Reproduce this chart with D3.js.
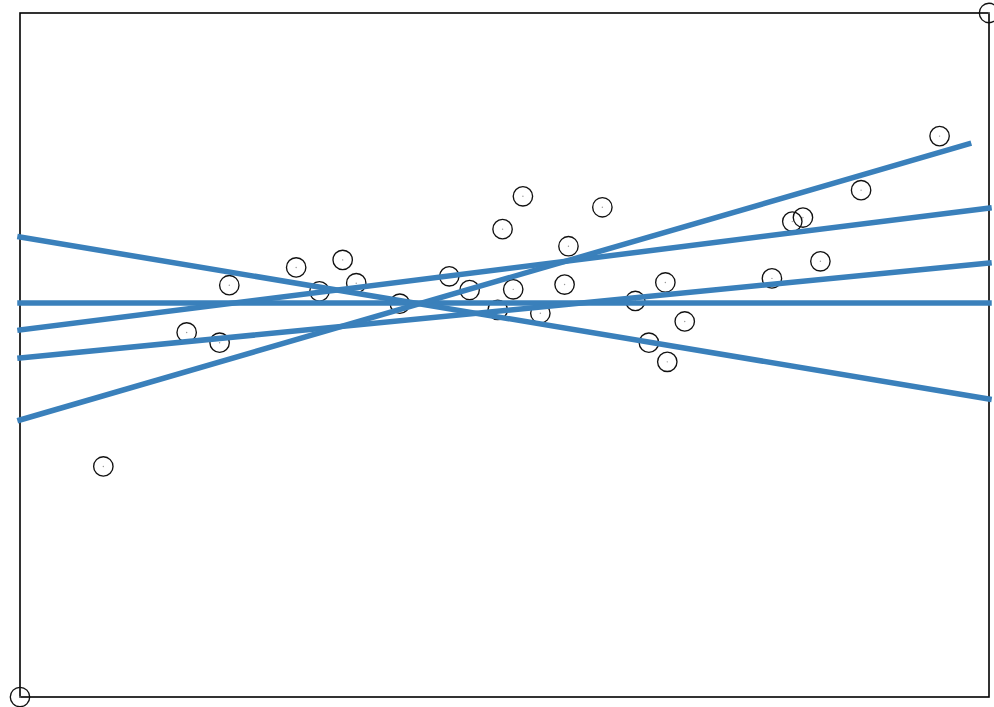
<!DOCTYPE html>
<html>
<head>
<meta charset="utf-8">
<script src="https://cdn.jsdelivr.net/npm/d3@7"></script>
<style>
  html, body { margin: 0; padding: 0; background: #fff; }
  svg { display: block; }
</style>
</head>
<body>
<svg id="chart" width="994" height="707"></svg>
<script>
// Scatter points (data units)
const pointX = [0, 100, 8.6, 17.2, 20.6, 21.6, 28.5, 30.9, 33.3, 34.7, 39.2, 44.3, 46.4, 49.3, 50.9, 49.8, 51.9, 53.7, 56.2, 56.6, 60.1, 63.5, 64.9, 66.6, 66.8, 68.6, 77.6, 79.7, 80.8, 82.6, 86.8, 94.9];
const pointY = [0, 100, 33.7, 53.3, 51.8, 60.2, 62.8, 59.3, 63.9, 60.5, 57.5, 61.5, 59.5, 56.6, 59.6, 68.4, 73.2, 56.1, 60.3, 65.9, 71.6, 57.9, 51.8, 60.6, 49.0, 54.9, 61.2, 69.5, 70.1, 63.7, 74.1, 82.0];

// Fitted lines (start/end in data units)
const lineX0 = [0, 0, 0, 0, 0];
const lineX1 = [100, 100, 100, 100, 97.9];
const lineY0 = [57.6, 67.25, 53.65, 49.56, 40.5];
const lineY1 = [57.6, 43.57, 71.49, 63.45, 80.85];

const xDomain = [0, 100];
const yDomain = [0, 100];

(function () {
  const svg = d3.select("#chart");
  const mLeft = 20, mRight = 989, mTop = 13, mBottom = 697;
  const x = d3.scaleLinear().domain(xDomain).range([mLeft, mRight]);
  const y = d3.scaleLinear().domain(yDomain).range([mBottom, mTop]);

  svg.append("rect")
    .attr("x", mLeft).attr("y", mTop)
    .attr("width", mRight - mLeft).attr("height", mBottom - mTop)
    .attr("fill", "none").attr("stroke", "#000").attr("stroke-width", 1.6);

  const pts = pointX.map((v, i) => ({x: v, y: pointY[i]}));
  const g = svg.append("g");
  g.selectAll("circle.pt").data(pts).join("circle")
    .attr("class", "pt")
    .attr("cx", d => x(d.x)).attr("cy", d => y(d.y))
    .attr("r", 9.7)
    .attr("fill", "none").attr("stroke", "#111").attr("stroke-width", 1.35);
  g.selectAll("circle.dot").data(pts).join("circle")
    .attr("class", "dot")
    .attr("cx", d => x(d.x)).attr("cy", d => y(d.y))
    .attr("r", 0.7)
    .attr("fill", "#999");

  const lines = lineX0.map((v, i) => ({x0: v, x1: lineX1[i], y0: lineY0[i], y1: lineY1[i]}));
  svg.append("g").selectAll("line").data(lines).join("line")
    .attr("x1", d => x(d.x0)).attr("y1", d => y(d.y0))
    .attr("x2", d => x(d.x1)).attr("y2", d => y(d.y1))
    .attr("stroke", "#3a80bb").attr("stroke-width", 5.5)
    .attr("stroke-linecap", "square");
})();
</script>
</body>
</html>
